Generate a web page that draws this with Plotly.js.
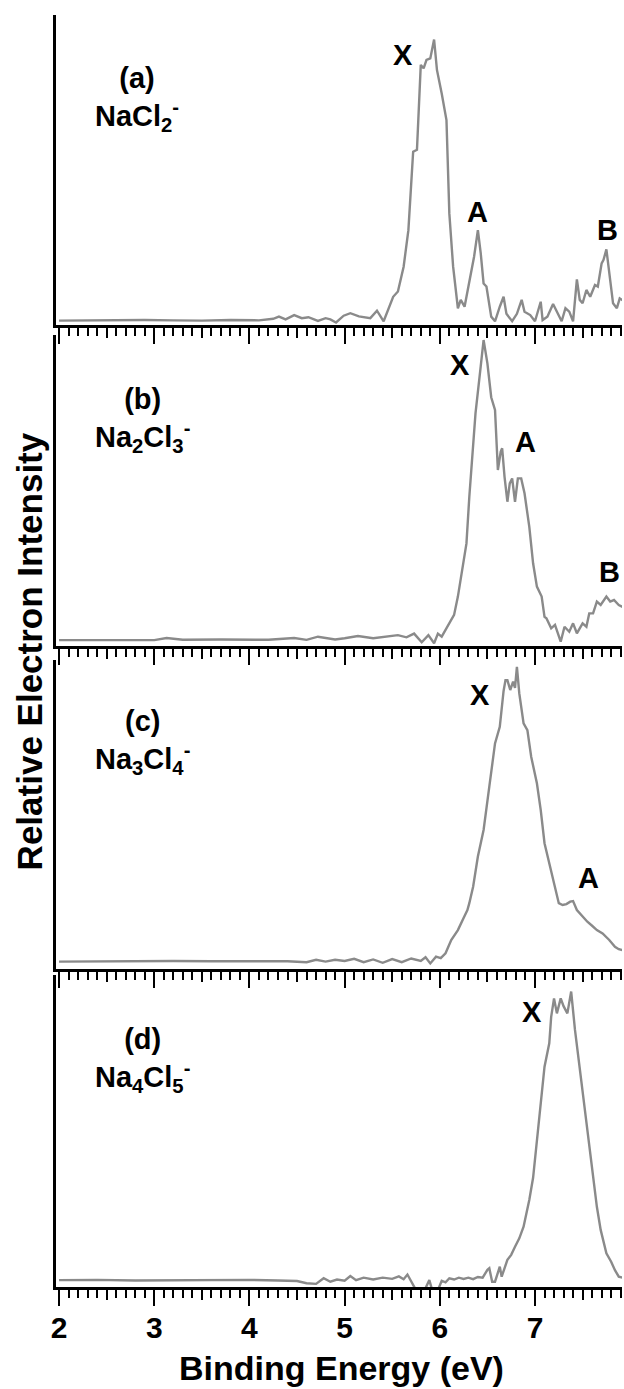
<!DOCTYPE html>
<html>
<head>
<meta charset="utf-8">
<script src="https://cdn.plot.ly/plotly-3.0.1.min.js"></script>
<style>html,body{margin:0;padding:0;background:#fff;}#chart{width:624px;height:1389px;}</style>
</head>
<body>
<div id="chart"></div>
<script>
// ---- data (binding energy in eV, relative intensity 0..1 of each panel) ----
var energyA = [2.00,2.30,2.60,2.90,3.20,3.50,3.80,4.10,4.25,4.31,4.38,4.47,4.55,4.62,4.72,4.80,4.85,4.91,4.99,5.06,5.15,5.27,5.34,5.41,5.51,5.56,5.62,5.67,5.72,5.76,5.80,5.83,5.86,5.90,5.94,5.97,6.02,6.07,6.10,6.14,6.19,6.22,6.26,6.32,6.36,6.40,6.43,6.46,6.49,6.54,6.58,6.63,6.67,6.70,6.76,6.81,6.86,6.89,6.95,7.00,7.06,7.08,7.13,7.19,7.23,7.28,7.32,7.36,7.40,7.44,7.47,7.50,7.54,7.58,7.63,7.66,7.70,7.72,7.75,7.79,7.82,7.86,7.89,7.92];
var intensityA = [0.014,0.015,0.014,0.016,0.015,0.014,0.016,0.015,0.020,0.027,0.018,0.032,0.022,0.025,0.013,0.022,0.018,0.008,0.030,0.038,0.028,0.022,0.046,0.012,0.091,0.108,0.188,0.306,0.559,0.565,0.839,0.828,0.855,0.860,0.921,0.823,0.747,0.661,0.360,0.188,0.054,0.081,0.059,0.156,0.220,0.306,0.231,0.134,0.124,0.027,0.012,0.059,0.091,0.036,0.012,0.036,0.081,0.043,0.032,0.012,0.075,0.016,0.027,0.068,0.043,0.012,0.054,0.043,0.012,0.147,0.081,0.070,0.113,0.091,0.129,0.124,0.199,0.210,0.244,0.145,0.070,0.054,0.086,0.080];

var energyB = [2.00,2.50,3.00,3.13,3.30,3.70,4.20,4.47,4.60,4.72,4.90,5.00,5.14,5.30,5.45,5.56,5.65,5.73,5.81,5.88,5.94,5.98,6.02,6.06,6.10,6.15,6.19,6.24,6.28,6.31,6.375,6.43,6.46,6.50,6.54,6.58,6.61,6.64,6.655,6.68,6.71,6.735,6.76,6.79,6.82,6.855,6.89,6.94,6.98,7.02,7.07,7.10,7.12,7.17,7.21,7.27,7.31,7.36,7.40,7.44,7.50,7.54,7.57,7.61,7.65,7.69,7.75,7.79,7.83,7.88,7.92];
var intensityB = [0.019,0.020,0.019,0.026,0.020,0.021,0.020,0.026,0.020,0.030,0.021,0.025,0.032,0.025,0.030,0.035,0.028,0.040,0.012,0.035,0.009,0.040,0.030,0.051,0.073,0.100,0.159,0.250,0.330,0.480,0.748,0.900,0.984,0.909,0.800,0.759,0.566,0.625,0.636,0.544,0.464,0.523,0.539,0.464,0.539,0.539,0.491,0.384,0.266,0.191,0.159,0.094,0.089,0.057,0.068,0.014,0.062,0.046,0.073,0.041,0.073,0.062,0.105,0.105,0.143,0.132,0.159,0.143,0.148,0.132,0.126];

var energyC = [2.00,2.40,2.80,3.20,3.60,4.00,4.40,4.60,4.70,4.80,4.90,5.00,5.10,5.20,5.30,5.40,5.50,5.60,5.70,5.80,5.85,5.90,5.96,6.01,6.06,6.12,6.19,6.25,6.29,6.31,6.35,6.40,6.46,6.52,6.58,6.63,6.67,6.69,6.71,6.74,6.77,6.79,6.81,6.835,6.88,6.92,6.96,7.02,7.06,7.10,7.15,7.21,7.25,7.29,7.33,7.37,7.40,7.44,7.47,7.50,7.55,7.60,7.65,7.71,7.78,7.84,7.88,7.92];
var intensityC = [0.024,0.025,0.024,0.026,0.025,0.024,0.025,0.022,0.030,0.024,0.030,0.026,0.033,0.022,0.031,0.020,0.032,0.022,0.034,0.026,0.038,0.018,0.040,0.035,0.051,0.094,0.126,0.165,0.191,0.213,0.266,0.364,0.450,0.590,0.730,0.784,0.900,0.935,0.935,0.903,0.930,0.910,0.978,0.892,0.795,0.773,0.687,0.601,0.515,0.407,0.342,0.266,0.213,0.207,0.210,0.218,0.220,0.191,0.180,0.169,0.153,0.140,0.126,0.115,0.094,0.072,0.064,0.061];

var energyD = [2.00,2.40,2.80,3.20,3.60,4.00,4.30,4.50,4.60,4.70,4.78,4.85,4.92,5.00,5.06,5.12,5.20,5.30,5.40,5.50,5.57,5.62,5.66,5.70,5.75,5.84,5.89,5.92,5.98,6.02,6.06,6.10,6.15,6.20,6.25,6.30,6.35,6.40,6.45,6.50,6.52,6.55,6.58,6.63,6.65,6.71,6.75,6.79,6.835,6.88,6.94,6.98,7.02,7.06,7.10,7.15,7.17,7.20,7.23,7.27,7.30,7.34,7.38,7.42,7.46,7.50,7.55,7.59,7.63,7.65,7.69,7.75,7.80,7.84,7.88,7.92];
var intensityD = [0.022,0.023,0.021,0.022,0.021,0.023,0.021,0.019,0.012,0.010,0.028,0.017,0.024,0.020,0.035,0.022,0.030,0.024,0.030,0.026,0.034,0.025,0.040,0.017,-0.010,-0.010,0.022,-0.010,-0.010,0.020,0.015,0.028,0.024,0.030,0.026,0.030,0.025,0.032,0.030,0.055,0.060,0.017,0.017,0.065,0.033,0.087,0.103,0.129,0.156,0.193,0.279,0.350,0.471,0.599,0.706,0.781,0.866,0.925,0.877,0.925,0.900,0.877,0.947,0.824,0.728,0.631,0.514,0.407,0.310,0.257,0.183,0.108,0.081,0.054,0.033,0.030];

var panelLetters = ['(a)','(b)','(c)','(d)'];
var panelSpecies = ['NaCl<sub>2</sub><sup>-</sup>','Na<sub>2</sub>Cl<sub>3</sub><sup>-</sup>','Na<sub>3</sub>Cl<sub>4</sub><sup>-</sup>','Na<sub>4</sub>Cl<sub>5</sub><sup>-</sup>'];
var peakNames = [['X','A','B'],['X','A','B'],['X','A'],['X']];
var peakEnergies = [[5.61,6.40,7.76],[6.21,6.895,7.78],[6.417,7.567],[6.97]];
var peakHeights = [[0.871,0.365,0.306],[0.904,0.656,0.238],[0.887,0.294],[0.881]];
var majorTickVals = [2,3,4,5,6,7];
var majorTickText = ['2','3','4','5','6','7'];
var halfTickVals = [2.5,3.5,4.5,5.5,6.5,7.5];
var xAxisTitle = 'Binding Energy (eV)';
var yAxisTitle = 'Relative Electron Intensity';

// ---- layout ----
var energies = [energyA, energyB, energyC, energyD];
var intens = [intensityA, intensityB, intensityC, intensityD];
var domains = [[0.7563,1.0],[0.5039,0.7484],[0.25,0.4929],[0.0,0.2453]];
var labelY = [0.728, 0.727, 0.735, 0.728];
var xr = [1.968, 7.914];
var lineGray = 'rgb(138,138,138)';
var fontFam = 'Liberation Sans, Arial, Helvetica, sans-serif';

var data = [];
var layout = {
  width: 624, height: 1389,
  margin: {l: 56, r: 2, t: 15, b: 102},
  paper_bgcolor: '#fff', plot_bgcolor: '#fff',
  showlegend: false,
  font: {family: fontFam, color: '#000', weight: 'bold'},
  annotations: []
};

for (var i = 0; i < 4; i++) {
  var n = i + 1;
  var xs = n === 1 ? 'x' : 'x' + n;
  var ys = n === 1 ? 'y' : 'y' + n;
  data.push({
    x: energies[i], y: intens[i], xaxis: xs, yaxis: ys,
    type: 'scatter', mode: 'lines',
    line: {color: lineGray, width: 2.4},
    hoverinfo: 'skip'
  });
  // helper (empty) trace for overlay half-tick axis
  data.push({x: [], y: [], xaxis: 'x' + (n + 4), yaxis: ys, type: 'scatter', mode: 'lines', hoverinfo: 'skip'});

  var isBottom = (i === 3);
  layout['xaxis' + (n === 1 ? '' : n)] = {
    domain: [0, 1], anchor: ys, range: xr,
    showline: true, linewidth: 3, linecolor: '#000',
    showgrid: false, zeroline: false,
    ticks: 'outside', tickmode: 'array', tickvals: majorTickVals, ticktext: majorTickText,
    ticklen: 16, tickwidth: 2, tickcolor: '#000',
    minor: {ticks: 'outside', tick0: 2, dtick: 0.1, ticklen: 8, tickwidth: 2, tickcolor: '#000', showgrid: false},
    showticklabels: isBottom,
    tickfont: {family: fontFam, size: 30, color: '#000', weight: 'bold'},
    ticklabelstandoff: -4,
    layer: 'above traces'
  };
  layout['xaxis' + (n + 4)] = {
    overlaying: xs, anchor: ys, range: xr, side: 'bottom',
    showline: false, showgrid: false, zeroline: false,
    ticks: 'outside', tickmode: 'array', tickvals: halfTickVals,
    ticklen: 12, tickwidth: 2, tickcolor: '#000', showticklabels: false
  };
  layout['yaxis' + (n === 1 ? '' : n)] = {
    domain: domains[i], anchor: xs, range: [0, 1],
    showline: true, linewidth: 3, linecolor: '#000',
    showgrid: false, zeroline: false, ticks: '', showticklabels: false,
    layer: 'above traces'
  };

  layout.annotations.push({
    xref: xs, yref: ys, x: 2.36, y: labelY[i],
    xanchor: 'left', yanchor: 'middle', align: 'center', showarrow: false,
    text: panelLetters[i] + '<br>' + panelSpecies[i],
    font: {family: fontFam, size: 29, color: '#000', weight: 'bold'}
  });
  for (var k = 0; k < peakNames[i].length; k++) {
    layout.annotations.push({
      xref: xs, yref: ys, x: peakEnergies[i][k], y: peakHeights[i][k],
      xanchor: 'center', yanchor: 'middle', showarrow: false,
      text: peakNames[i][k],
      font: {family: fontFam, size: 29, color: '#000', weight: 'bold'}
    });
  }
}

layout.annotations.push({
  xref: 'paper', yref: 'paper', x: -0.047, y: 0.5,
  xanchor: 'center', yanchor: 'middle', textangle: -90, showarrow: false,
  text: yAxisTitle,
  font: {family: fontFam, size: 35, color: '#000', weight: 'bold'}
});
layout.annotations.push({
  xref: 'paper', yref: 'paper', x: 0.505, y: -0.0635,
  xanchor: 'center', yanchor: 'middle', showarrow: false, borderpad: 0,
  text: xAxisTitle,
  font: {family: fontFam, size: 34, color: '#000', weight: 'bold'}
});

Plotly.newPlot('chart', data, layout, {staticPlot: true, displayModeBar: false});
</script>
</body>
</html>
